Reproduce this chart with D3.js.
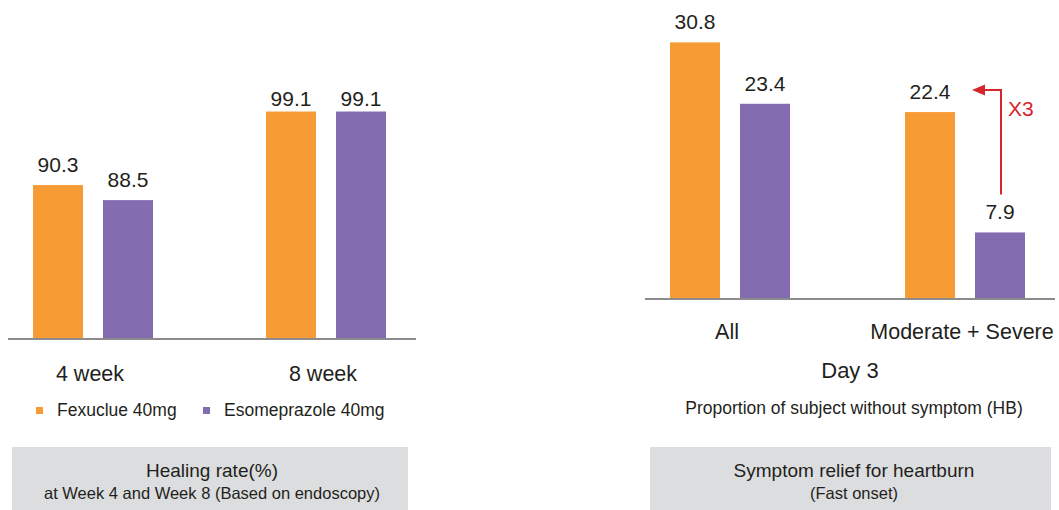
<!DOCTYPE html>
<html>
<head>
<meta charset="utf-8">
<script src="https://cdn.jsdelivr.net/npm/d3@7"></script>
<style>
  body { margin: 0; background: #ffffff; }
  svg text { font-family: "Liberation Sans", Arial, sans-serif; fill: #231f20; }
</style>
</head>
<body>
<svg id="chart"></svg>
<script>
// chart size
var w = 1059;
var h = 510;

// data
var series = ["Fexuclue 40mg", "Esomeprazole 40mg"];
var colors = ["#f79c34", "#836cb0"];

var healingCats = ["4 week", "8 week"];
var healingFexuclue = [90.3, 99.1];
var healingEsomeprazole = [88.5, 99.1];

var reliefCats = ["All", "Moderate + Severe"];
var reliefFexuclue = [30.8, 22.4];
var reliefEsomeprazole = [23.4, 7.9];

var svg = d3.select("#chart")
    .attr("width", w)
    .attr("height", h);

// inner band scale for the two bars in a group
var inner = d3.scaleBand()
    .domain(series)
    .range([-60, 60])
    .paddingInner(2 - 120 / 70);

function drawPanel(opts) {
    var g = svg.append("g");
    var x = d3.scalePoint().domain(opts.cats).range(opts.xRange);
    var y = opts.y;

    var rows = [];
    opts.cats.forEach(function (c, i) {
        rows.push({ cat: c, s: series[0], v: opts.a[i], color: colors[0] });
        rows.push({ cat: c, s: series[1], v: opts.b[i], color: colors[1] });
    });

    g.selectAll(".bar")
        .data(rows)
        .enter().append("rect")
        .attr("class", "bar")
        .attr("x", function (d) { return x(d.cat) + inner(d.s); })
        .attr("width", inner.bandwidth())
        .attr("y", function (d) { return y(d.v); })
        .attr("height", function (d) { return opts.base - y(d.v); })
        .attr("fill", function (d) { return d.color; });

    // value labels
    g.selectAll(".val")
        .data(rows)
        .enter().append("text")
        .attr("class", "val")
        .attr("x", function (d) { return x(d.cat) + inner(d.s) + inner.bandwidth() / 2; })
        .attr("y", function (d) { return Math.max(y(d.v) - 13, opts.labelTop); })
        .attr("text-anchor", "middle")
        .attr("font-size", "21px")
        .text(function (d) { return d.v.toFixed(1); });

    // baseline
    g.append("line")
        .attr("x1", opts.axis[0])
        .attr("x2", opts.axis[1])
        .attr("y1", opts.base + 1)
        .attr("y2", opts.base + 1)
        .attr("stroke", "#8c8c8c")
        .attr("stroke-width", 2);

    // category labels
    g.selectAll(".cat")
        .data(opts.cats)
        .enter().append("text")
        .attr("class", "cat")
        .attr("x", function (d) { return x(d) - 3; })
        .attr("y", opts.catY)
        .attr("text-anchor", "middle")
        .attr("font-size", "21.5px")
        .text(function (d) { return d; });

    return { x: x, y: y };
}

// left panel: healing rate
var left = drawPanel({
    cats: healingCats,
    a: healingFexuclue,
    b: healingEsomeprazole,
    xRange: [93, 326],
    y: d3.scaleLinear().domain([72, 100]).range([338, 104]),
    base: 338,
    labelTop: 106,
    axis: [8, 416],
    catY: 381
});

// right panel: symptom relief
var right = drawPanel({
    cats: reliefCats,
    a: reliefFexuclue,
    b: reliefEsomeprazole,
    xRange: [730, 965],
    y: d3.scaleLinear().domain([0, 35]).range([298, 7.5]),
    base: 298,
    labelTop: 0,
    axis: [645, 1055],
    catY: 339
});

// x3 arrow between the moderate + severe bars
var red = "#d7252d";
var mx = right.x("Moderate + Severe");
var ax = mx + inner(series[1]) + inner.bandwidth() / 2 + 1;
var ayTop = right.y(reliefFexuclue[1]) - 22;
var ayBottom = right.y(reliefEsomeprazole[1]) - 38;
var tipX = mx + inner(series[0]) + inner.bandwidth() + 17;

svg.append("path")
    .attr("d", "M" + ax + "," + ayBottom + "V" + ayTop + "H" + (tipX + 10))
    .attr("fill", "none")
    .attr("stroke", red)
    .attr("stroke-width", 2);

svg.append("path")
    .attr("d", "M" + tipX + "," + ayTop + "L" + (tipX + 13) + "," + (ayTop - 5.5) + "L" + (tipX + 13) + "," + (ayTop + 5.5) + "Z")
    .attr("fill", red);

svg.append("text")
    .attr("x", ax + 7)
    .attr("y", ayTop + 26)
    .attr("font-size", "21px")
    .style("fill", red)
    .text("X3");

// legend
var legend = svg.append("g").attr("transform", "translate(36,407)");
var legendX = [0, 167];
legend.selectAll("rect")
    .data(series)
    .enter().append("rect")
    .attr("x", function (d, i) { return legendX[i]; })
    .attr("y", 0)
    .attr("width", 7)
    .attr("height", 7)
    .attr("fill", function (d, i) { return colors[i]; });

legend.selectAll("text")
    .data(series)
    .enter().append("text")
    .attr("x", function (d, i) { return legendX[i] + 21; })
    .attr("y", 9)
    .attr("font-size", "17.5px")
    .text(function (d) { return d; });

// right panel axis titles
svg.append("text")
    .attr("x", 850)
    .attr("y", 378)
    .attr("text-anchor", "middle")
    .attr("font-size", "22px")
    .text("Day 3");

svg.append("text")
    .attr("x", 854)
    .attr("y", 414)
    .attr("text-anchor", "middle")
    .attr("font-size", "17.5px")
    .text("Proportion of subject without symptom (HB)");

// caption boxes
var boxes = [
    { x: 12, w: 396, cx: 212, title: "Healing rate(%)", sub: "at Week 4 and Week 8 (Based on endoscopy)" },
    { x: 650, w: 401, cx: 854, title: "Symptom relief for heartburn", sub: "(Fast onset)" }
];

boxes.forEach(function (b) {
    svg.append("rect")
        .attr("x", b.x)
        .attr("y", 447)
        .attr("width", b.w)
        .attr("height", h - 447)
        .attr("fill", "#dcdddf");

    svg.append("text")
        .attr("x", b.cx)
        .attr("y", 477)
        .attr("text-anchor", "middle")
        .attr("font-size", "19px")
        .text(b.title);

    svg.append("text")
        .attr("x", b.cx)
        .attr("y", 499)
        .attr("text-anchor", "middle")
        .attr("font-size", "16.5px")
        .text(b.sub);
});
</script>
</body>
</html>
